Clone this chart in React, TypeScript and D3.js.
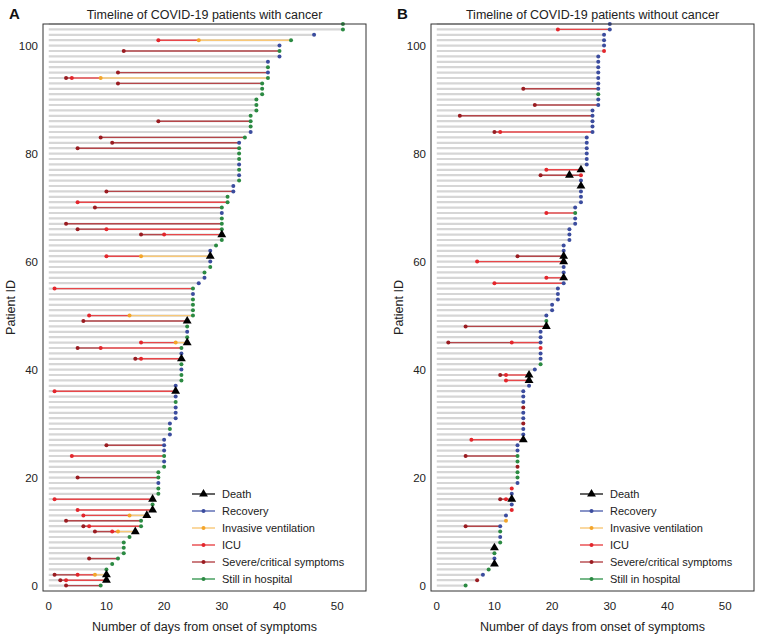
import React from 'react';
import * as d3 from 'd3';

// one row per patient, listed from the top of the panel down
// [last day, outcome, severe onset day, ICU day, invasive ventilation day, extra death mark]
// outcome: D death, R recovery, H still in hospital, I / S / V last status ICU / severe / ventilation
type Row = [number, string, (number | null)?, (number | null)?, (number | null)?, number?];

const withCancer: Row[] = [
  [51, 'H'], [51, 'H'], [46, 'R'], [42, 'H', null, 19, 26], [40, 'R'], [40, 'H', 13], [40, 'R'], [38, 'R'], [38, 'H'], [38, 'R', 12],
  [38, 'H', 3, 4, 9], [37, 'H', 12], [37, 'H'], [37, 'H'], [36, 'H'], [36, 'H'], [36, 'H'], [35, 'H'], [35, 'H', 19], [35, 'H'],
  [35, 'R'], [34, 'H', 9], [33, 'R', 11], [33, 'H', 5], [33, 'H'], [33, 'H'], [33, 'R'], [33, 'H'], [33, 'R'], [33, 'H'],
  [32, 'R'], [32, 'R', 10], [31, 'H'], [31, 'H', null, 5], [30, 'H', 8], [30, 'R'], [30, 'H'], [30, 'H', 3], [30, 'H', 5, 10], [30, 'D', 16, 20],
  [30, 'H'], [29, 'H'], [28, 'R'], [28, 'D', null, 10, 16], [28, 'R'], [28, 'H'], [27, 'H'], [27, 'R'], [26, 'R'], [25, 'H', null, 1],
  [25, 'R'], [25, 'H'], [25, 'H'], [25, 'H'], [25, 'H', null, 7, 14], [24, 'D', 6], [24, 'H'], [24, 'R'], [24, 'H'], [24, 'D', null, 16, 22],
  [23, 'H', 5, 9], [23, 'R'], [23, 'D', 15, 16], [23, 'H'], [23, 'R'], [23, 'H'], [23, 'H'], [22, 'R'], [22, 'D', null, 1], [22, 'R'],
  [22, 'H'], [22, 'R'], [22, 'R'], [22, 'R'], [21, 'R'], [21, 'H'], [21, 'R'], [20, 'R'], [20, 'R', 10], [20, 'R'],
  [20, 'H', null, 4], [20, 'R'], [20, 'H'], [19, 'H'], [19, 'H', 5], [19, 'R'], [19, 'H'], [19, 'H'], [18, 'D', null, 1], [18, 'H'],
  [18, 'D', null, 5], [17, 'D', null, 6, 14], [16, 'H', 3], [16, 'H', 6, 7], [15, 'D', 8, 11, 12], [14, 'H'], [13, 'H'], [13, 'H'], [13, 'H'], [12, 'H', 7],
  [11, 'H'], [10, 'H'], [10, 'D', 1, 5, 8], [10, 'D', 2, 3], [9, 'H', 3],
];

const withoutCancer: Row[] = [
  [30, 'R'], [30, 'R', null, 21], [29, 'R'], [29, 'R'], [29, 'R'], [29, 'I'], [28, 'R'], [28, 'R'], [28, 'R'], [28, 'R'],
  [28, 'R'], [28, 'R'], [28, 'R', 15], [28, 'H'], [28, 'R'], [28, 'R', 17], [27, 'R'], [27, 'R', 4], [27, 'R'], [27, 'R'],
  [27, 'R', 10, 11], [26, 'R'], [26, 'R'], [26, 'R'], [26, 'R'], [26, 'R'], [26, 'R'], [25, 'D', null, 19], [25, 'I', 18, null, null, 23], [25, 'R'],
  [25, 'D'], [25, 'R'], [25, 'R'], [25, 'R'], [24, 'R'], [24, 'H', null, 19], [24, 'R'], [24, 'R'], [23, 'R'], [23, 'R'],
  [23, 'R'], [22, 'R'], [22, 'R'], [22, 'D', 14], [22, 'D', null, 7], [22, 'R'], [22, 'R'], [22, 'D', null, 19], [22, 'R', null, 10], [21, 'R'],
  [21, 'R'], [21, 'R'], [20, 'R'], [20, 'R'], [19, 'R'], [19, 'H'], [19, 'D', 5], [18, 'R'], [18, 'R'], [18, 'R', 2, 13],
  [18, 'I'], [18, 'R'], [18, 'R'], [18, 'H'], [17, 'R'], [16, 'D', 11, 12], [16, 'D', null, 12], [16, 'R'], [15, 'R'], [15, 'R'],
  [15, 'R'], [15, 'S'], [15, 'R'], [15, 'R'], [15, 'S'], [15, 'R'], [15, 'R'], [15, 'D', null, 6], [14, 'R'], [14, 'R'],
  [14, 'H', 5], [14, 'H'], [14, 'S'], [14, 'H'], [14, 'H'], [14, 'R'], [13, 'I'], [13, 'R'], [13, 'D', 11, 12], [13, 'R'],
  [13, 'I'], [12, 'R'], [12, 'V'], [11, 'R', 5], [11, 'H'], [11, 'R'], [11, 'H'], [10, 'D'], [10, 'H'], [10, 'R'],
  [10, 'D'], [9, 'H'], [8, 'R'], [7, 'S'], [5, 'H'],
];

const xTicks = [0, 10, 20, 30, 40, 50];
const yTicks = [0, 20, 40, 60, 80, 100];
const legendKeys = ['death', 'recovery', 'imv', 'icu', 'severe', 'still'];
const legendLabels = ['Death', 'Recovery', 'Invasive ventilation', 'ICU', 'Severe/critical symptoms', 'Still in hospital'];

const COLORS: Record<string, string> = {
  death: '#000000',
  recovery: '#3b4c9e',
  imv: '#f4a52a',
  icu: '#e3262c',
  severe: '#9a1c21',
  still: '#2b8a42',
};
const LINE_COLORS: Record<string, string> = {
  death: '#222222',
  recovery: '#5566b0',
  imv: '#f8c878',
  icu: '#e8474a',
  severe: '#b5464a',
  still: '#3c9a55',
};
const OUTCOME: Record<string, string> = { D: 'death', R: 'recovery', H: 'still', I: 'icu', S: 'severe', V: 'imv' };

const FONT = '"Liberation Sans", Arial, Helvetica, sans-serif';
const TOP = 24;
const BOTTOM = 591;
const WIDTH = 323;

const tri = d3.symbol(d3.symbolTriangle, 34)() as string;

function Panel({ rows, title, letter, left }: { rows: Row[]; title: string; letter: string; left: number }) {
  const x = d3.scaleLinear().domain([-1, 55]).range([left, left + WIDTH]);
  const y = d3.scaleLinear().domain([-1, 104]).range([BOTTOM, TOP]);
  const n = rows.length;

  const items = rows.map((r, i) => {
    const [end, out, sev, icu, imv, extra] = r;
    const ev: { t: number; k: string }[] = [];
    if (sev != null) ev.push({ t: sev, k: 'severe' });
    if (icu != null) ev.push({ t: icu, k: 'icu' });
    if (imv != null) ev.push({ t: imv, k: 'imv' });
    return { yy: y(n - 1 - i), end, out: OUTCOME[out], ev, extra };
  });

  const mid = left + WIDTH / 2;
  return (
    <g>
      <text x={left - 34} y={19} fontSize={15} fontWeight="bold" fill="#111">{letter}</text>
      <text x={mid} y={19} fontSize={12.5} textAnchor="middle" fill="#222">{title}</text>

      {items.map((d, i) => (
        <line key={'g' + i} x1={x(0)} x2={x(d.end)} y1={d.yy} y2={d.yy} stroke="#d6d6d6" strokeWidth={2.2} />
      ))}
      {items.map((d, i) =>
        d.ev.map((e, j) => (
          <line
            key={'s' + i + '-' + j}
            x1={x(e.t)}
            x2={x(j + 1 < d.ev.length ? d.ev[j + 1].t : d.end)}
            y1={d.yy}
            y2={d.yy}
            stroke={LINE_COLORS[e.k]}
            strokeWidth={1.4}
          />
        ))
      )}
      {items.map((d, i) =>
        d.ev.map((e, j) => (
          <circle key={'c' + i + '-' + j} cx={x(e.t)} cy={d.yy} r={2} fill={COLORS[e.k]} />
        ))
      )}
      {items.map((d, i) =>
        d.out === 'death' ? null : (
          <circle key={'e' + i} cx={x(d.end)} cy={d.yy} r={2} fill={COLORS[d.out]} />
        )
      )}
      {items.map((d, i) => (
        <g key={'t' + i}>
          {d.out === 'death' && <path d={tri} transform={`translate(${x(d.end)},${d.yy})`} fill="#000" />}
          {d.extra != null && <path d={tri} transform={`translate(${x(d.extra)},${d.yy})`} fill="#000" />}
        </g>
      ))}

      <rect x={left} y={TOP} width={WIDTH} height={BOTTOM - TOP} fill="none" stroke="#333" strokeWidth={1} />

      {xTicks.map(t => (
        <text key={'xt' + t} x={x(t)} y={610} fontSize={11.5} textAnchor="middle" fill="#222">{t}</text>
      ))}
      {yTicks.map(t => (
        <text key={'yt' + t} x={left - 5} y={y(t)} dy="0.35em" fontSize={11.5} textAnchor="end" fill="#222">{t}</text>
      ))}
      <text x={mid} y={631} fontSize={12.5} textAnchor="middle" fill="#222">Number of days from onset of symptoms</text>
      <text
        transform={`translate(${left - 28},${(TOP + BOTTOM) / 2}) rotate(-90)`}
        fontSize={12.5}
        textAnchor="middle"
        fill="#222"
      >
        Patient ID
      </text>

      {legendKeys.map((k, i) => {
        const ly = 494 + i * 17;
        const lx = left + 149;
        return (
          <g key={'lg' + k}>
            <line x1={lx} x2={lx + 23} y1={ly} y2={ly} stroke={LINE_COLORS[k]} strokeWidth={1.4} />
            {k === 'death' ? (
              <path d={tri} transform={`translate(${lx + 11.5},${ly})`} fill="#000" />
            ) : (
              <circle cx={lx + 11.5} cy={ly} r={2} fill={COLORS[k]} />
            )}
            <text x={lx + 30} y={ly} dy="0.35em" fontSize={11} fill="#222">{legendLabels[i]}</text>
          </g>
        );
      })}
    </g>
  );
}

export default function App() {
  return (
    <svg
      width={762}
      height={636}
      style={{ position: 'absolute', left: 0, top: 0, background: '#fff' }}
      fontFamily={FONT}
    >
      <Panel rows={withCancer} title="Timeline of COVID-19 patients with cancer" letter="A" left={43} />
      <Panel rows={withoutCancer} title="Timeline of COVID-19 patients without cancer" letter="B" left={431} />
    </svg>
  );
}
